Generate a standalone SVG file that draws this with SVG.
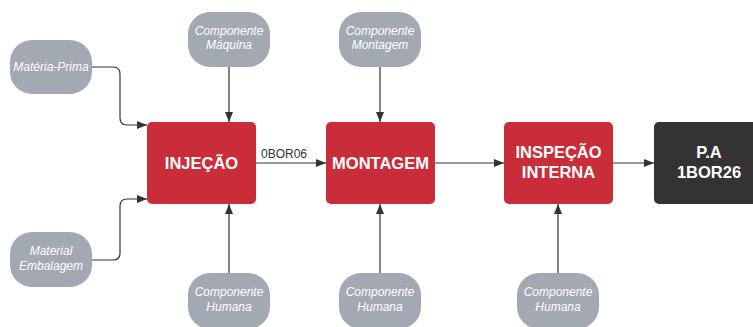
<svg xmlns="http://www.w3.org/2000/svg" width="753" height="327" viewBox="0 0 753 327">
<style>
.bg{fill:#ffffff}
.proc{fill:#C92D39}
.dark{fill:#333333}
.in{fill:#A3A9B3}
.pt{font-family:"Liberation Sans",Arial,sans-serif;font-weight:bold;font-size:16.5px;fill:#ffffff;text-anchor:middle}
.it{font-family:"Liberation Sans",Arial,sans-serif;font-style:italic;font-size:12px;fill:#ffffff;text-anchor:middle}
.lbl{font-family:"Liberation Sans",Arial,sans-serif;font-size:12px;fill:#333333;text-anchor:middle}
.c{fill:none;stroke:#333333;stroke-width:1.2}
</style>
<defs>
<marker id="ah" viewBox="0 0 10 8" refX="10" refY="4" markerWidth="10" markerHeight="8" markerUnits="userSpaceOnUse" orient="auto">
<path d="M0,0 L10,4 L0,8 Z" fill="#333333"/>
</marker>
</defs>
<rect class="bg" x="0" y="0" width="753" height="327"/>
<g id="connectors">
<path class="c" d="M92,67 H113 Q120,67 120,74 V118 Q120,125 127,125 H147" marker-end="url(#ah)"/>
<path class="c" d="M91,260 H113 Q120,260 120,253 V206 Q120,199 127,199 H147" marker-end="url(#ah)"/>
<path class="c" d="M229,67 V122" marker-end="url(#ah)"/>
<path class="c" d="M229,273 V204" marker-end="url(#ah)"/>
<path class="c" d="M380,67 V122" marker-end="url(#ah)"/>
<path class="c" d="M380,273 V204" marker-end="url(#ah)"/>
<path class="c" d="M558,273 V204" marker-end="url(#ah)"/>
<path class="c" d="M256,163 H326" marker-end="url(#ah)"/>
<text class="lbl" x="284" y="158">0BOR06</text>
<path class="c" d="M435,163 H504" marker-end="url(#ah)"/>
<path class="c" d="M613,163 H654" marker-end="url(#ah)"/>
</g>
<g id="materia-prima">
<rect class="in" x="10" y="40" width="82" height="54" rx="22"/>
<text class="it" x="51" y="71">Matéria-Prima</text>
</g>
<g id="material-embalagem">
<rect class="in" x="10" y="232" width="82" height="55" rx="22"/>
<text class="it" x="51" y="255">Material</text>
<text class="it" x="51" y="270">Embalagem</text>
</g>
<g id="comp-maquina">
<rect class="in" x="188" y="12" width="82" height="55" rx="22"/>
<text class="it" x="229" y="35">Componente</text>
<text class="it" x="229" y="49">Máquina</text>
</g>
<g id="comp-montagem">
<rect class="in" x="339" y="12" width="82" height="55" rx="22"/>
<text class="it" x="380" y="35">Componente</text>
<text class="it" x="380" y="49">Montagem</text>
</g>
<g id="comp-humana-1">
<rect class="in" x="188" y="273" width="82" height="56" rx="22"/>
<text class="it" x="229" y="296">Componente</text>
<text class="it" x="229" y="311">Humana</text>
</g>
<g id="comp-humana-2">
<rect class="in" x="339" y="273" width="82" height="56" rx="22"/>
<text class="it" x="380" y="296">Componente</text>
<text class="it" x="380" y="311">Humana</text>
</g>
<g id="comp-humana-3">
<rect class="in" x="517" y="273" width="82" height="56" rx="22"/>
<text class="it" x="558" y="296">Componente</text>
<text class="it" x="558" y="311">Humana</text>
</g>
<g id="injecao">
<rect class="proc" x="147" y="122" width="109" height="82" rx="5"/>
<text class="pt" x="201.5" y="169">INJEÇÃO</text>
</g>
<g id="montagem">
<rect class="proc" x="326" y="122" width="109" height="82" rx="5"/>
<text class="pt" x="380.5" y="169">MONTAGEM</text>
</g>
<g id="inspecao">
<rect class="proc" x="504" y="122" width="109" height="82" rx="5"/>
<text class="pt" x="558.5" y="158">INSPEÇÃO</text>
<text class="pt" x="558.5" y="178">INTERNA</text>
</g>
<g id="pa">
<rect class="dark" x="654" y="122" width="109" height="82" rx="5"/>
<text class="pt" x="709" y="158">P.A</text>
<text class="pt" x="709" y="178">1BOR26</text>
</g>
</svg>
